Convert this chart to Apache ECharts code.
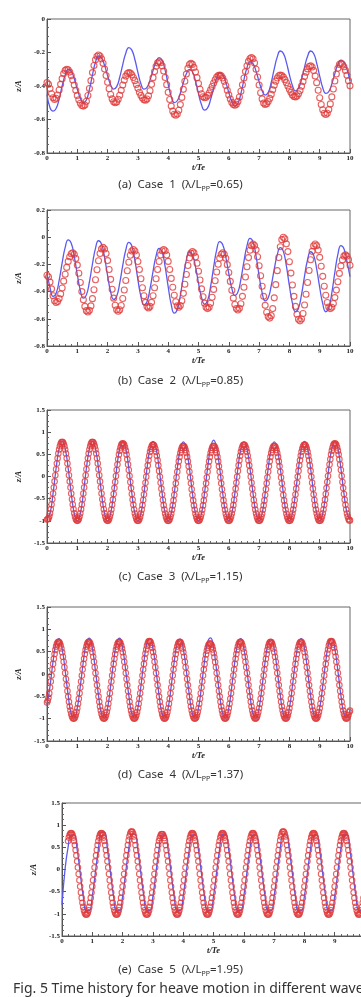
<!DOCTYPE html>
<html>
<head>
<meta charset="utf-8">
<script src="https://cdn.jsdelivr.net/npm/echarts@6/dist/echarts.min.js"></script>
<style>
  html, body { margin: 0; padding: 0; background: #fff; }
  #chart { width: 361px; height: 997px; }
</style>
</head>
<body>
<div id="chart"></div>
<script>
// line samples every 0.1 t/Te; circles every 0.05 (cases 1-2) or 0.025 (cases 3-5)
const LINE_STEP = 0.1;
const DOT_STEPS = [0.05, 0.05, 0.025, 0.025, 0.025];

// (a) Case 1
const case1Line = [
  -0.45, -0.53, -0.55, -0.534, -0.478, -0.40, -0.334, -0.301, -0.312, -0.357,
  -0.419, -0.473, -0.499, -0.483, -0.42, -0.334, -0.258, -0.221, -0.232, -0.277,
  -0.339, -0.393, -0.419, -0.404, -0.348, -0.272, -0.204, -0.171, -0.186, -0.242,
  -0.319, -0.386, -0.419, -0.408, -0.365, -0.307, -0.256, -0.231, -0.247, -0.307,
  -0.390, -0.463, -0.499, -0.488, -0.443, -0.381, -0.327, -0.301, -0.315, -0.370,
  -0.446, -0.512, -0.544, -0.531, -0.48, -0.411, -0.351, -0.321, -0.332, -0.377,
  -0.439, -0.493, -0.519, -0.504, -0.444, -0.363, -0.291, -0.256, -0.267, -0.312,
  -0.374, -0.428, -0.454, -0.439, -0.379, -0.298, -0.226, -0.191, -0.205, -0.259,
  -0.333, -0.397, -0.429, -0.415, -0.361, -0.287, -0.223, -0.191, -0.206, -0.263,
  -0.341, -0.41, -0.444, -0.433, -0.388, -0.326, -0.272, -0.246, -0.258, -0.30,
  -0.37
];
const case1Dots = [
  -0.38, -0.39, -0.415, -0.446, -0.47, -0.48, -0.473, -0.454, -0.424, -0.39, -0.356, -0.326, -0.307, -0.30, -0.304, -0.317, -0.338, -0.364, -0.394, -0.426,
  -0.456, -0.482, -0.503, -0.516, -0.52, -0.513, -0.491, -0.457, -0.415, -0.368, -0.32, -0.278, -0.244, -0.222, -0.215, -0.221, -0.238, -0.264, -0.299, -0.337,
  -0.378, -0.416, -0.451, -0.477, -0.494, -0.50, -0.495, -0.479, -0.455, -0.426, -0.394, -0.365, -0.341, -0.325, -0.32, -0.323, -0.333, -0.349, -0.368, -0.391,
  -0.414, -0.437, -0.456, -0.472, -0.482, -0.485, -0.478, -0.458, -0.428, -0.39, -0.35, -0.313, -0.282, -0.262, -0.255, -0.261, -0.28, -0.31, -0.349, -0.392,
  -0.438, -0.481, -0.52, -0.55, -0.569, -0.575, -0.567, -0.545, -0.511, -0.468, -0.42, -0.372, -0.329, -0.294, -0.272, -0.265, -0.271, -0.289, -0.316, -0.35,
  -0.385, -0.419, -0.446, -0.464, -0.47, -0.467, -0.457, -0.442, -0.423, -0.403, -0.382, -0.363, -0.347, -0.338, -0.335, -0.339, -0.352, -0.372, -0.397, -0.425,
  -0.453, -0.478, -0.498, -0.511, -0.515, -0.509, -0.492, -0.466, -0.431, -0.393, -0.352, -0.314, -0.279, -0.253, -0.236, -0.23, -0.238, -0.263, -0.30, -0.346,
  -0.394, -0.44, -0.477, -0.502, -0.51, -0.506, -0.493, -0.474, -0.45, -0.423, -0.395, -0.371, -0.352, -0.339, -0.335, -0.338, -0.347, -0.362, -0.38, -0.40,
  -0.42, -0.438, -0.453, -0.462, -0.465, -0.46, -0.447, -0.427, -0.401, -0.373, -0.344, -0.318, -0.298, -0.284, -0.28, -0.287, -0.308, -0.34, -0.38, -0.425,
  -0.47, -0.51, -0.542, -0.563, -0.57, -0.563, -0.541, -0.507, -0.465, -0.418, -0.37, -0.328, -0.294, -0.272, -0.265, -0.27, -0.285, -0.307, -0.336, -0.368,
  -0.399
];

// (b) Case 2
const case2Line = [
  -0.265, -0.37, -0.435, -0.414, -0.319, -0.189, -0.075, -0.02, -0.045, -0.142,
  -0.275, -0.391, -0.448, -0.424, -0.328, -0.197, -0.082, -0.026, -0.051, -0.149,
  -0.283, -0.401, -0.458, -0.434, -0.338, -0.208, -0.094, -0.038, -0.065, -0.169,
  -0.312, -0.437, -0.498, -0.474, -0.379, -0.251, -0.137, -0.082, -0.11, -0.218,
  -0.365, -0.495, -0.558, -0.532, -0.429, -0.29, -0.167, -0.107, -0.129, -0.217,
  -0.337, -0.442, -0.493, -0.466, -0.362, -0.219, -0.093, -0.032, -0.055, -0.145,
  -0.268, -0.376, -0.428, -0.404, -0.308, -0.178, -0.064, -0.008, -0.035, -0.139,
  -0.282, -0.407, -0.468, -0.446, -0.357, -0.235, -0.129, -0.077, -0.104, -0.211,
  -0.357, -0.485, -0.548, -0.522, -0.422, -0.286, -0.166, -0.107, -0.133, -0.233,
  -0.369, -0.489, -0.548, -0.52, -0.409, -0.259, -0.127, -0.062, -0.085, -0.18,
  -0.29
];
const case2Dots = [
  -0.28, -0.293, -0.33, -0.38, -0.43, -0.467, -0.48, -0.473, -0.451, -0.417, -0.373, -0.323, -0.272, -0.222, -0.178, -0.144, -0.122, -0.115, -0.126, -0.157,
  -0.205, -0.265, -0.333, -0.40, -0.46, -0.509, -0.54, -0.55, -0.538, -0.505, -0.452, -0.386, -0.313, -0.239, -0.173, -0.12, -0.086, -0.075, -0.087, -0.12,
  -0.172, -0.237, -0.31, -0.383, -0.448, -0.50, -0.534, -0.545, -0.534, -0.502, -0.451, -0.388, -0.318, -0.247, -0.184, -0.133, -0.101, -0.09, -0.101, -0.131,
  -0.179, -0.238, -0.305, -0.372, -0.431, -0.479, -0.51, -0.52, -0.509, -0.479, -0.431, -0.372, -0.305, -0.238, -0.179, -0.131, -0.10, -0.09, -0.10, -0.131,
  -0.178, -0.237, -0.303, -0.368, -0.427, -0.475, -0.505, -0.515, -0.503, -0.467, -0.413, -0.346, -0.274, -0.208, -0.153, -0.117, -0.105, -0.115, -0.145, -0.192,
  -0.25, -0.315, -0.38, -0.438, -0.485, -0.515, -0.525, -0.515, -0.486, -0.441, -0.384, -0.32, -0.256, -0.199, -0.154, -0.125, -0.115, -0.125, -0.155, -0.202,
  -0.26, -0.325, -0.39, -0.448, -0.495, -0.525, -0.535, -0.523, -0.489, -0.435, -0.368, -0.293, -0.217, -0.15, -0.096, -0.062, -0.05, -0.061, -0.093, -0.144,
  -0.21, -0.284, -0.361, -0.435, -0.501, -0.552, -0.584, -0.595, -0.577, -0.525, -0.446, -0.349, -0.246, -0.149, -0.07, -0.018, 0.0, -0.012, -0.049, -0.106,
  -0.18, -0.264, -0.351, -0.435, -0.509, -0.566, -0.603, -0.615, -0.601, -0.561, -0.499, -0.42, -0.333, -0.245, -0.166, -0.104, -0.064, -0.05, -0.062, -0.095,
  -0.148, -0.214, -0.288, -0.361, -0.427, -0.48, -0.514, -0.525, -0.515, -0.487, -0.444, -0.389, -0.328, -0.266, -0.211, -0.167, -0.139, -0.13, -0.139, -0.165,
  -0.206
];

// (c) Case 3
const case3Line = [
  -0.95, -0.83, -0.38, 0.18, 0.63, 0.80, 0.63, 0.18, -0.38, -0.83,
  -1.0, -0.83, -0.38, 0.18, 0.63, 0.80, 0.63, 0.18, -0.38, -0.83,
  -1.0, -0.83, -0.38, 0.18, 0.63, 0.80, 0.63, 0.18, -0.38, -0.83,
  -1.0, -0.83, -0.38, 0.18, 0.63, 0.79, 0.63, 0.18, -0.38, -0.83,
  -1.0, -0.83, -0.38, 0.18, 0.62, 0.78, 0.62, 0.18, -0.38, -0.83,
  -1.0, -0.83, -0.37, 0.19, 0.65, 0.82, 0.64, 0.18, -0.38, -0.83,
  -1.0, -0.83, -0.38, 0.18, 0.62, 0.78, 0.62, 0.18, -0.38, -0.83,
  -1.0, -0.83, -0.38, 0.18, 0.62, 0.78, 0.62, 0.18, -0.38, -0.83,
  -1.0, -0.83, -0.38, 0.18, 0.63, 0.79, 0.63, 0.18, -0.38, -0.83,
  -1.0, -0.83, -0.38, 0.18, 0.63, 0.80, 0.63, 0.18, -0.38, -0.82,
  -0.97
];
const case3Dots = [
  -0.97, -0.965, -0.945, -0.9, -0.83, -0.739, -0.633, -0.514, -0.385, -0.249, -0.11, 0.029, 0.165, 0.294, 0.413, 0.519, 0.61, 0.683, 0.736, 0.769, 0.78, 0.769, 0.736, 0.683, 0.61, 0.519, 0.413, 0.294, 0.165, 0.029, -0.11, -0.249, -0.385, -0.514, -0.633, -0.739, -0.83, -0.903, -0.956, -0.989,
  -1.0, -0.989, -0.956, -0.903, -0.83, -0.739, -0.633, -0.514, -0.385, -0.249, -0.11, 0.029, 0.165, 0.294, 0.413, 0.519, 0.61, 0.683, 0.736, 0.769, 0.78, 0.769, 0.736, 0.683, 0.61, 0.519, 0.413, 0.294, 0.165, 0.029, -0.11, -0.249, -0.385, -0.514, -0.633, -0.739, -0.83, -0.903, -0.956, -0.989,
  -1.0, -0.99, -0.957, -0.905, -0.833, -0.744, -0.64, -0.522, -0.395, -0.262, -0.125, 0.012, 0.145, 0.272, 0.39, 0.494, 0.583, 0.655, 0.707, 0.74, 0.75, 0.74, 0.707, 0.655, 0.583, 0.494, 0.39, 0.272, 0.145, 0.012, -0.125, -0.262, -0.395, -0.522, -0.64, -0.744, -0.833, -0.905, -0.957, -0.99,
  -1.0, -0.99, -0.958, -0.906, -0.836, -0.748, -0.646, -0.53, -0.406, -0.274, -0.14, -0.006, 0.126, 0.25, 0.366, 0.468, 0.556, 0.626, 0.678, 0.71, 0.72, 0.71, 0.678, 0.626, 0.556, 0.468, 0.366, 0.25, 0.126, -0.006, -0.14, -0.274, -0.406, -0.53, -0.646, -0.748, -0.836, -0.906, -0.958, -0.99,
  -1.0, -0.99, -0.959, -0.908, -0.839, -0.752, -0.652, -0.539, -0.416, -0.287, -0.155, -0.023, 0.106, 0.229, 0.342, 0.442, 0.529, 0.598, 0.649, 0.68, 0.69, 0.68, 0.649, 0.598, 0.529, 0.442, 0.342, 0.229, 0.106, -0.023, -0.155, -0.287, -0.416, -0.539, -0.652, -0.752, -0.839, -0.908, -0.959, -0.99,
  -1.0, -0.99, -0.959, -0.908, -0.839, -0.752, -0.652, -0.539, -0.416, -0.287, -0.155, -0.023, 0.106, 0.229, 0.342, 0.442, 0.529, 0.598, 0.649, 0.68, 0.69, 0.68, 0.649, 0.598, 0.529, 0.442, 0.342, 0.229, 0.106, -0.023, -0.155, -0.287, -0.416, -0.539, -0.652, -0.752, -0.839, -0.908, -0.959, -0.99,
  -1.0, -0.99, -0.958, -0.906, -0.836, -0.748, -0.646, -0.53, -0.406, -0.274, -0.14, -0.006, 0.126, 0.25, 0.366, 0.468, 0.556, 0.626, 0.678, 0.71, 0.72, 0.71, 0.678, 0.626, 0.556, 0.468, 0.366, 0.25, 0.126, -0.006, -0.14, -0.274, -0.406, -0.53, -0.646, -0.748, -0.836, -0.906, -0.958, -0.99,
  -1.0, -0.99, -0.959, -0.908, -0.839, -0.752, -0.652, -0.539, -0.416, -0.287, -0.155, -0.023, 0.106, 0.229, 0.342, 0.442, 0.529, 0.598, 0.649, 0.68, 0.69, 0.68, 0.649, 0.598, 0.529, 0.442, 0.342, 0.229, 0.106, -0.023, -0.155, -0.287, -0.416, -0.539, -0.652, -0.752, -0.839, -0.908, -0.959, -0.99,
  -1.0, -0.99, -0.958, -0.906, -0.836, -0.748, -0.646, -0.53, -0.406, -0.274, -0.14, -0.006, 0.126, 0.25, 0.366, 0.468, 0.556, 0.626, 0.678, 0.71, 0.72, 0.71, 0.678, 0.626, 0.556, 0.468, 0.366, 0.25, 0.126, -0.006, -0.14, -0.274, -0.406, -0.53, -0.646, -0.748, -0.836, -0.906, -0.958, -0.99,
  -1.0, -0.99, -0.957, -0.905, -0.833, -0.744, -0.64, -0.522, -0.395, -0.262, -0.125, 0.012, 0.145, 0.272, 0.39, 0.494, 0.583, 0.655, 0.707, 0.74, 0.75, 0.74, 0.707, 0.655, 0.583, 0.494, 0.39, 0.272, 0.145, 0.012, -0.125, -0.262, -0.395, -0.522, -0.64, -0.744, -0.833, -0.905, -0.957, -0.99,
  -0.99
];

// (d) Case 4
const case4Line = [
  -0.70, -0.27, 0.28, 0.69, 0.79, 0.56, 0.07, -0.48, -0.89, -0.99,
  -0.76, -0.27, 0.28, 0.70, 0.80, 0.56, 0.07, -0.48, -0.89, -0.99,
  -0.76, -0.27, 0.28, 0.70, 0.80, 0.56, 0.07, -0.48, -0.89, -0.99,
  -0.76, -0.27, 0.28, 0.69, 0.79, 0.56, 0.07, -0.48, -0.89, -0.99,
  -0.76, -0.27, 0.28, 0.69, 0.78, 0.55, 0.07, -0.48, -0.89, -0.99,
  -0.76, -0.27, 0.29, 0.71, 0.81, 0.56, 0.07, -0.48, -0.89, -0.99,
  -0.76, -0.27, 0.28, 0.69, 0.79, 0.56, 0.07, -0.48, -0.89, -0.99,
  -0.76, -0.27, 0.28, 0.68, 0.77, 0.55, 0.07, -0.48, -0.89, -0.99,
  -0.76, -0.27, 0.28, 0.69, 0.79, 0.56, 0.07, -0.48, -0.89, -0.99,
  -0.76, -0.27, 0.28, 0.69, 0.79, 0.56, 0.07, -0.48, -0.89, -0.98,
  -0.80
];
const case4Dots = [
  -0.64, -0.60, -0.53, -0.43, -0.301, -0.167, -0.032, 0.10, 0.226, 0.343, 0.449, 0.539, 0.613, 0.669, 0.705, 0.72, 0.713, 0.686, 0.638, 0.571, 0.487, 0.387, 0.275, 0.152, 0.021, -0.113, -0.248, -0.38, -0.506, -0.623, -0.729, -0.819, -0.893, -0.949, -0.985, -1.0, -0.993, -0.966, -0.918, -0.851,
  -0.767, -0.667, -0.555, -0.431, -0.301, -0.167, -0.032, 0.10, 0.226, 0.343, 0.449, 0.539, 0.613, 0.669, 0.705, 0.72, 0.713, 0.686, 0.638, 0.571, 0.487, 0.387, 0.275, 0.152, 0.021, -0.113, -0.248, -0.38, -0.506, -0.623, -0.729, -0.819, -0.893, -0.949, -0.985, -1.0, -0.993, -0.966, -0.918, -0.851,
  -0.767, -0.667, -0.555, -0.431, -0.301, -0.167, -0.032, 0.10, 0.226, 0.343, 0.449, 0.539, 0.613, 0.669, 0.705, 0.72, 0.713, 0.686, 0.638, 0.571, 0.487, 0.387, 0.275, 0.152, 0.021, -0.113, -0.248, -0.38, -0.506, -0.623, -0.729, -0.819, -0.893, -0.949, -0.985, -1.0, -0.993, -0.966, -0.918, -0.851,
  -0.767, -0.667, -0.555, -0.431, -0.301, -0.167, -0.032, 0.10, 0.226, 0.35, 0.46, 0.55, 0.63, 0.69, 0.725, 0.74, 0.733, 0.705, 0.655, 0.585, 0.495, 0.39, 0.275, 0.152, 0.021, -0.113, -0.248, -0.38, -0.506, -0.623, -0.729, -0.819, -0.893, -0.949, -0.985, -1.0, -0.993, -0.966, -0.918, -0.851,
  -0.767, -0.667, -0.555, -0.431, -0.301, -0.167, -0.032, 0.10, 0.226, 0.343, 0.449, 0.539, 0.613, 0.669, 0.705, 0.72, 0.713, 0.686, 0.638, 0.571, 0.487, 0.387, 0.275, 0.152, 0.021, -0.113, -0.248, -0.38, -0.506, -0.623, -0.729, -0.819, -0.893, -0.949, -0.985, -1.0, -0.993, -0.966, -0.918, -0.851,
  -0.767, -0.667, -0.555, -0.431, -0.301, -0.167, -0.032, 0.10, 0.22, 0.335, 0.435, 0.52, 0.59, 0.64, 0.672, 0.685, 0.678, 0.655, 0.612, 0.55, 0.47, 0.375, 0.27, 0.152, 0.021, -0.113, -0.248, -0.38, -0.506, -0.623, -0.729, -0.819, -0.893, -0.949, -0.985, -1.0, -0.993, -0.966, -0.918, -0.851,
  -0.767, -0.667, -0.555, -0.431, -0.301, -0.167, -0.032, 0.10, 0.226, 0.343, 0.449, 0.539, 0.613, 0.669, 0.705, 0.72, 0.713, 0.686, 0.638, 0.571, 0.487, 0.387, 0.275, 0.152, 0.021, -0.113, -0.248, -0.38, -0.506, -0.623, -0.729, -0.819, -0.893, -0.949, -0.985, -1.0, -0.993, -0.966, -0.918, -0.851,
  -0.767, -0.667, -0.555, -0.431, -0.301, -0.167, -0.032, 0.10, 0.226, 0.343, 0.449, 0.539, 0.613, 0.669, 0.705, 0.72, 0.713, 0.686, 0.638, 0.571, 0.487, 0.387, 0.275, 0.152, 0.021, -0.113, -0.248, -0.38, -0.506, -0.623, -0.729, -0.819, -0.893, -0.949, -0.985, -1.0, -0.993, -0.966, -0.918, -0.851,
  -0.767, -0.667, -0.555, -0.431, -0.301, -0.167, -0.032, 0.10, 0.226, 0.343, 0.449, 0.539, 0.613, 0.669, 0.705, 0.72, 0.713, 0.686, 0.638, 0.571, 0.487, 0.387, 0.275, 0.152, 0.021, -0.113, -0.248, -0.38, -0.506, -0.623, -0.729, -0.819, -0.893, -0.949, -0.985, -1.0, -0.993, -0.966, -0.918, -0.851,
  -0.767, -0.667, -0.555, -0.431, -0.301, -0.167, -0.032, 0.10, 0.226, 0.35, 0.46, 0.55, 0.63, 0.69, 0.725, 0.74, 0.733, 0.705, 0.655, 0.585, 0.495, 0.39, 0.275, 0.152, 0.021, -0.113, -0.248, -0.38, -0.506, -0.623, -0.729, -0.819, -0.893, -0.949, -0.985, -1.0, -0.993, -0.966, -0.918, -0.851,
  -0.82
];

// (e) Case 5
const case5Line = [
  -0.80, 0.00, 0.50, 0.78, 0.78, 0.45, -0.075, -0.60, -0.93, -0.93,
  -0.60, -0.075, 0.45, 0.84, 0.84, 0.45, -0.075, -0.60, -0.93, -0.93,
  -0.60, -0.075, 0.45, 0.80, 0.80, 0.45, -0.075, -0.60, -0.93, -0.93,
  -0.60, -0.075, 0.45, 0.78, 0.78, 0.45, -0.075, -0.60, -0.93, -0.93,
  -0.60, -0.075, 0.45, 0.78, 0.78, 0.45, -0.075, -0.60, -0.93, -0.93,
  -0.60, -0.075, 0.45, 0.79, 0.79, 0.45, -0.075, -0.60, -0.93, -0.93,
  -0.60, -0.075, 0.45, 0.78, 0.78, 0.45, -0.075, -0.60, -0.93, -0.93,
  -0.60, -0.075, 0.45, 0.78, 0.78, 0.45, -0.075, -0.60, -0.93, -0.93,
  -0.60, -0.075, 0.45, 0.78, 0.78, 0.45, -0.075, -0.60, -0.93, -0.93,
  -0.60, -0.075, 0.45, 0.79, 0.79, 0.45, -0.075, -0.60, -0.93, -0.93,
  -0.60
];
const case5Dots = [
  null, null, null, null, null, null, null, null, 0.644, 0.72, 0.775, 0.809, 0.82, 0.809, 0.775, 0.72, 0.644, 0.55, 0.441, 0.318, 0.184, 0.044, -0.10, -0.244, -0.384, -0.518, -0.641, -0.75, -0.844, -0.92, -0.975, -1.009, -1.02, -1.009, -0.975, -0.92, -0.844, -0.75, -0.641, -0.518,
  -0.384, -0.244, -0.10, 0.044, 0.184, 0.318, 0.441, 0.55, 0.644, 0.72, 0.775, 0.809, 0.82, 0.809, 0.775, 0.72, 0.644, 0.55, 0.441, 0.318, 0.184, 0.044, -0.10, -0.244, -0.384, -0.518, -0.641, -0.75, -0.844, -0.92, -0.975, -1.009, -1.02, -1.009, -0.975, -0.92, -0.844, -0.75, -0.641, -0.518,
  -0.384, -0.244, -0.10, 0.044, 0.184, 0.318, 0.441, 0.55, 0.66, 0.745, 0.805, 0.845, 0.86, 0.845, 0.805, 0.745, 0.66, 0.55, 0.441, 0.318, 0.184, 0.044, -0.10, -0.244, -0.384, -0.518, -0.641, -0.75, -0.844, -0.92, -0.975, -1.009, -1.02, -1.009, -0.975, -0.92, -0.844, -0.75, -0.641, -0.518,
  -0.384, -0.244, -0.10, 0.044, 0.184, 0.318, 0.441, 0.55, 0.644, 0.71, 0.76, 0.792, 0.80, 0.792, 0.76, 0.71, 0.644, 0.55, 0.441, 0.318, 0.184, 0.044, -0.10, -0.244, -0.384, -0.518, -0.641, -0.75, -0.844, -0.92, -0.975, -1.009, -1.02, -1.009, -0.975, -0.92, -0.844, -0.75, -0.641, -0.518,
  -0.384, -0.244, -0.10, 0.044, 0.184, 0.318, 0.441, 0.55, 0.644, 0.72, 0.775, 0.809, 0.82, 0.809, 0.775, 0.72, 0.644, 0.55, 0.441, 0.318, 0.184, 0.044, -0.10, -0.244, -0.384, -0.518, -0.641, -0.75, -0.844, -0.92, -0.975, -1.009, -1.02, -1.009, -0.975, -0.92, -0.844, -0.75, -0.641, -0.518,
  -0.384, -0.244, -0.10, 0.044, 0.184, 0.318, 0.441, 0.55, 0.644, 0.72, 0.775, 0.809, 0.82, 0.809, 0.775, 0.72, 0.644, 0.55, 0.441, 0.318, 0.184, 0.044, -0.10, -0.244, -0.384, -0.518, -0.641, -0.75, -0.844, -0.92, -0.975, -1.009, -1.02, -1.009, -0.975, -0.92, -0.844, -0.75, -0.641, -0.518,
  -0.384, -0.244, -0.10, 0.044, 0.184, 0.318, 0.441, 0.55, 0.644, 0.72, 0.775, 0.809, 0.82, 0.809, 0.775, 0.72, 0.644, 0.55, 0.441, 0.318, 0.184, 0.044, -0.10, -0.244, -0.384, -0.518, -0.641, -0.75, -0.844, -0.92, -0.975, -1.009, -1.02, -1.009, -0.975, -0.92, -0.844, -0.75, -0.641, -0.518,
  -0.384, -0.244, -0.10, 0.044, 0.184, 0.318, 0.441, 0.55, 0.66, 0.745, 0.805, 0.845, 0.86, 0.845, 0.805, 0.745, 0.66, 0.55, 0.441, 0.318, 0.184, 0.044, -0.10, -0.244, -0.384, -0.518, -0.641, -0.75, -0.844, -0.92, -0.975, -1.009, -1.02, -1.009, -0.975, -0.92, -0.844, -0.75, -0.641, -0.518,
  -0.384, -0.244, -0.10, 0.044, 0.184, 0.318, 0.441, 0.55, 0.644, 0.72, 0.775, 0.809, 0.82, 0.809, 0.775, 0.72, 0.644, 0.55, 0.441, 0.318, 0.184, 0.044, -0.10, -0.244, -0.384, -0.518, -0.641, -0.75, -0.844, -0.92, -0.975, -1.009, -1.02, -1.009, -0.975, -0.92, -0.844, -0.75, -0.641, -0.518,
  -0.384, -0.244, -0.10, 0.044, 0.184, 0.318, 0.441, 0.55, 0.644, 0.72, 0.775, 0.809, 0.82, 0.809, 0.775, 0.72, 0.644, 0.55, 0.441, 0.318, 0.184, 0.044, -0.10, -0.244, -0.384, -0.518, -0.641, -0.75, -0.844, -0.92, -0.975, -1.009, -1.02, -1.009, -0.975, -0.92, -0.844, -0.75, -0.641, -0.518,
  -0.384
];

const yRanges = [
  { min: -0.8, max: 0, interval: 0.2 },
  { min: -0.8, max: 0.2, interval: 0.2 },
  { min: -1.5, max: 1.5, interval: 0.5 },
  { min: -1.5, max: 1.5, interval: 0.5 },
  { min: -1.5, max: 1.5, interval: 0.5 }
];
const captions = [
  ['(a)', '1', '0.65'],
  ['(b)', '2', '0.85'],
  ['(c)', '3', '1.15'],
  ['(d)', '4', '1.37'],
  ['(e)', '5', '1.95']
];
const lines = [case1Line, case2Line, case3Line, case4Line, case5Line];
const dots = [case1Dots, case2Dots, case3Dots, case4Dots, case5Dots];

// layout of the five plot boxes (px); the last one runs past the right edge
const boxes = [
  { left: 47, top: 19, width: 303, height: 134, cap: 178 },
  { left: 47, top: 210, width: 303, height: 136, cap: 374 },
  { left: 47, top: 410, width: 303, height: 133, cap: 570 },
  { left: 47, top: 607, width: 303, height: 134, cap: 768 },
  { left: 62, top: 803, width: 303, height: 133, cap: 963 }
];

function toPairs(vals, step) {
  const out = [];
  vals.forEach((v, i) => {
    if (v !== null) out.push([Math.round(i * step * 1000) / 1000, v]);
  });
  return out;
}

const labelFont = { fontFamily: 'Liberation Serif', fontWeight: 'bold', fontSize: 7, color: '#222' };
const nameFont = { fontFamily: 'Liberation Serif', fontWeight: 'bold', fontStyle: 'italic', fontSize: 8.5, color: '#222' };

const chart = echarts.init(document.getElementById('chart'));

const option = {
  animation: false,
  backgroundColor: '#fff',
  title: boxes.map((b, i) => ({
    text: captions[i][0] + '  Case  ' + captions[i][1] + '  (λ/L{s|PP}=' + captions[i][2] + ')',
    left: 'center',
    top: b.cap,
    padding: 0,
    textStyle: {
      fontFamily: 'Noto Sans',
      fontWeight: 'normal',
      fontSize: 11.5,
      color: '#333',
      lineHeight: 14,
      rich: {
        s: { fontFamily: 'Noto Sans', fontSize: 7, color: '#333', lineHeight: 14, verticalAlign: 'bottom', padding: [3, 0, 0, 0] }
      }
    }
  })).concat([{
    text: 'Fig. 5 Time history for heave motion in different wave',
    left: 13,
    top: 982,
    padding: 0,
    textStyle: { fontFamily: 'Noto Sans', fontWeight: 'normal', fontSize: 14, color: '#333' }
  }]),
  grid: boxes.map(b => ({
    left: b.left, top: b.top, width: b.width, height: b.height,
    show: true, borderColor: '#666', borderWidth: 1, backgroundColor: 'transparent',
    containLabel: false,
    outerBoundsMode: 'none'
  })),
  xAxis: boxes.map((b, i) => ({
    gridIndex: i,
    type: 'value',
    min: 0, max: 10, interval: 1,
    name: 't/Te',
    nameLocation: 'middle',
    nameGap: 7,
    nameTextStyle: nameFont,
    axisLine: { show: true, onZero: false, lineStyle: { color: '#555', width: 1 } },
    axisTick: { show: true, inside: true, length: 4, lineStyle: { color: '#555' } },
    minorTick: { show: true, splitNumber: 5, length: 2, lineStyle: { color: '#666' } },
    axisLabel: Object.assign({ margin: 2 }, labelFont),
    splitLine: { show: false }
  })),
  yAxis: boxes.map((b, i) => ({
    gridIndex: i,
    type: 'value',
    min: yRanges[i].min, max: yRanges[i].max, interval: yRanges[i].interval,
    name: 'z/A',
    nameLocation: 'middle',
    nameRotate: 90,
    nameGap: 24,
    nameTextStyle: nameFont,
    axisLine: { show: true, onZero: false, lineStyle: { color: '#555', width: 1 } },
    axisTick: { show: true, inside: true, length: 4, lineStyle: { color: '#555' } },
    minorTick: { show: true, splitNumber: 4, length: 2, lineStyle: { color: '#666' } },
    axisLabel: Object.assign({ margin: 2 }, labelFont),
    splitLine: { show: false }
  })),
  series: []
};

lines.forEach((vals, i) => {
  option.series.push({
    type: 'line',
    xAxisIndex: i, yAxisIndex: i,
    data: toPairs(vals, LINE_STEP),
    smooth: 0.5,
    symbol: 'none',
    lineStyle: { color: '#5a5af0', width: 1.3 },
    z: 2
  });
});
dots.forEach((vals, i) => {
  option.series.push({
    type: 'scatter',
    xAxisIndex: i, yAxisIndex: i,
    data: toPairs(vals, DOT_STEPS[i]),
    symbol: 'circle',
    symbolSize: i < 2 ? 6 : 5.5,
    itemStyle: { color: 'rgba(255,255,255,0)', borderColor: '#e03a3a', borderWidth: 1.1 },
    z: 3
  });
});

chart.setOption(option);
</script>
</body>
</html>
